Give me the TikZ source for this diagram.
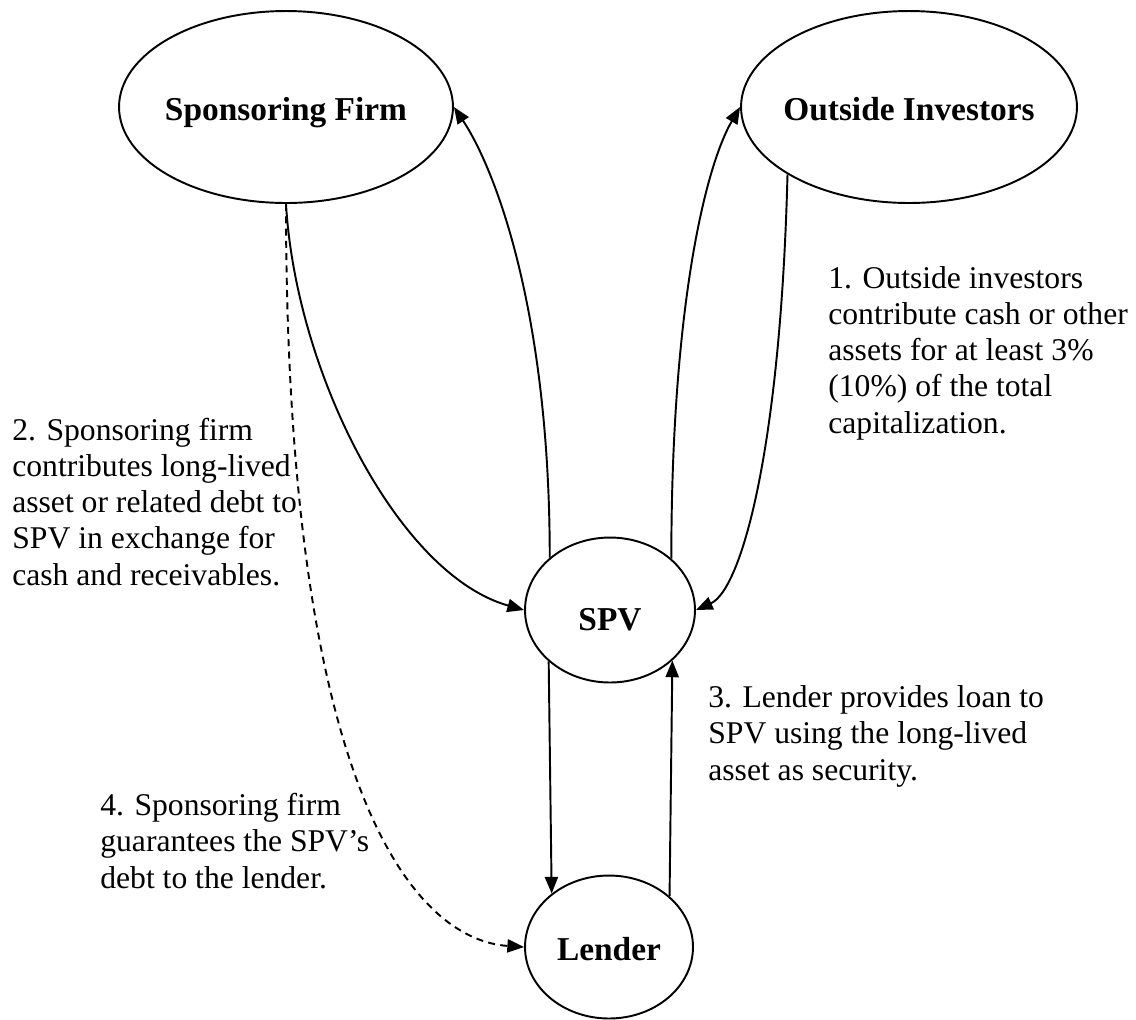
\documentclass[tikz,border=0pt]{standalone}
\usepackage{fontspec}
\setmainfont{Liberation Serif}
\usetikzlibrary{shapes.geometric, arrows.meta, positioning}

\begin{document}
\begin{tikzpicture}[x=0.02cm, y=-0.02cm,
  party/.style={ellipse, draw, line width=1.1pt, inner ysep=0pt, inner xsep=-8pt,
    text height=14.8pt, text depth=0pt, font=\fontsize{19}{21}\selectfont\bfseries},
  note/.style={anchor=base west, align=left, inner sep=0pt, font=\fontsize{18}{20.6}\selectfont},
  flow/.style={line width=1.1pt, -{Triangle[length=9.5pt, width=7.5pt]}}]
  \useasboundingbox (0,0) rectangle (1136,1019);

  % parties
  \node[party, minimum width=6.68cm, minimum height=3.84cm] (firm) at (286,107) {Sponsoring Firm};
  \node[party, minimum width=6.72cm, minimum height=3.84cm] (investors) at (909,107) {Outside Investors};
  \node[party, minimum width=3.4cm, minimum height=2.9cm, text height=22.8pt] (spv) at (610,610) {SPV};
  \node[party, minimum width=3.36cm, minimum height=2.86cm] (lender) at (609,947) {Lender};

  % numbered steps (placed by the baseline of their last line)
  \node[note] (capnote) at (828,433) {1. Outside investors\\contribute cash or other\\assets for at least 3\%\\(10\%) of the total\\capitalization.};
  \node[note] (assetnote) at (12,585) {2. Sponsoring firm\\contributes long-lived\\asset or related debt to\\SPV in exchange for\\cash and receivables.};
  \node[note] (loannote) at (708,780) {3. Lender provides loan to\\SPV using the long-lived\\asset as security.};
  \node[note] (guarnote) at (100,888) {4. Sponsoring firm\\guarantees the SPV's\\debt to the lender.};

  % flows
  \draw[flow] (spv.139) .. controls +(0,-250) and +(40,60) .. (firm.east);
  \draw[flow] (firm.south) .. controls +(10,170) and +(-125,-35) .. (spv.west);
  \draw[flow] (spv.40) .. controls +(0,-250) and +(-35,60) .. (investors.west);
  \draw[flow] (investors.209) .. controls +(-7,277) and +(45,-20) .. (spv.east);
  \draw[flow] (spv.220) -- (lender.137);
  \draw[flow] (lender.40) -- (spv.-39);
  \draw[flow, dash pattern=on 4pt off 3pt] (firm.south) .. controls +(0,600) and +(-105,-7) .. (lender.west);
\end{tikzpicture}
\end{document}
